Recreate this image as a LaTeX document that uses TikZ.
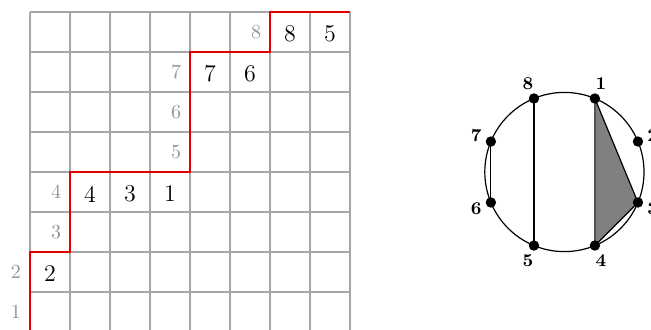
\documentclass[tikz,border=0pt]{standalone}
\begin{document}
\begin{tikzpicture}[x=20pt,y=20pt,
    grille/.style={gray!70, line width=0.6pt},
    chemin/.style={red!90!black, line width=1.2pt},
    gris/.style={gray!85, font=\normalsize},
    noir/.style={black, font=\large},
    sommet/.style={font=\small\bfseries}]
        % Cadre (même proportions que l'image)
        \useasboundingbox (-0.75,0.075) rectangle (15.525,8.3);

        % Grille 8x8
        \foreach \i in {0,...,8} {
            \draw[grille] (\i,0) -- (\i,8);
            \draw[grille] (0,\i) -- (8,\i);
        }

        % Chemin en escalier
        \draw[chemin] (0,0) -- (0,2) -- (1,2) -- (1,4) -- (4,4) -- (4,7) -- (6,7) -- (6,8) -- (8,8);

        % Étiquettes grises à gauche des pas verticaux
        \node[gris] (g1) at (-0.35,0.5) {1};
        \node[gris] (g2) at (-0.35,1.5) {2};
        \node[gris] (g3) at (0.65,2.5) {3};
        \node[gris] (g4) at (0.65,3.5) {4};
        \node[gris] (g5) at (3.65,4.5) {5};
        \node[gris] (g6) at (3.65,5.5) {6};
        \node[gris] (g7) at (3.65,6.5) {7};
        \node[gris] (g8) at (5.65,7.5) {8};

        % Entrées des cases
        \node[noir] (b2) at (0.5,1.45) {2};
        \node[noir] (b4) at (1.5,3.45) {4};
        \node[noir] (b3) at (2.5,3.45) {3};
        \node[noir] (b1) at (3.5,3.45) {1};
        \node[noir] (b7) at (4.5,6.45) {7};
        \node[noir] (b6) at (5.5,6.45) {6};
        \node[noir] (b8) at (6.5,7.45) {8};
        \node[noir] (b5) at (7.5,7.45) {5};

        % Cercle et ses huit points
        \coordinate (C) at (13.36,4);
        \def\R{1.99}
        \begin{scope}[shift={(C)}]
            \foreach \k in {1,...,8} {
                \coordinate (P\k) at ({112.5-45*\k}:\R);
                \node[sommet] (L\k) at ({112.5-45*\k}:{\R+0.4}) {\k};
            }
        \end{scope}
        \draw[line width=0.6pt] (C) circle (\R);

        % Triangle grisé et cordes
        \filldraw[fill=gray, draw=black, line width=0.6pt] (P1) -- (P3) -- (P4) -- cycle;
        \draw[line width=0.6pt] (P8) -- (P5);
        \draw[line width=0.6pt] (P7) -- (P6);

        % Sommets
        \foreach \k in {1,...,8} \fill (P\k) circle (2.6pt);

    \end{tikzpicture}
\end{document}
